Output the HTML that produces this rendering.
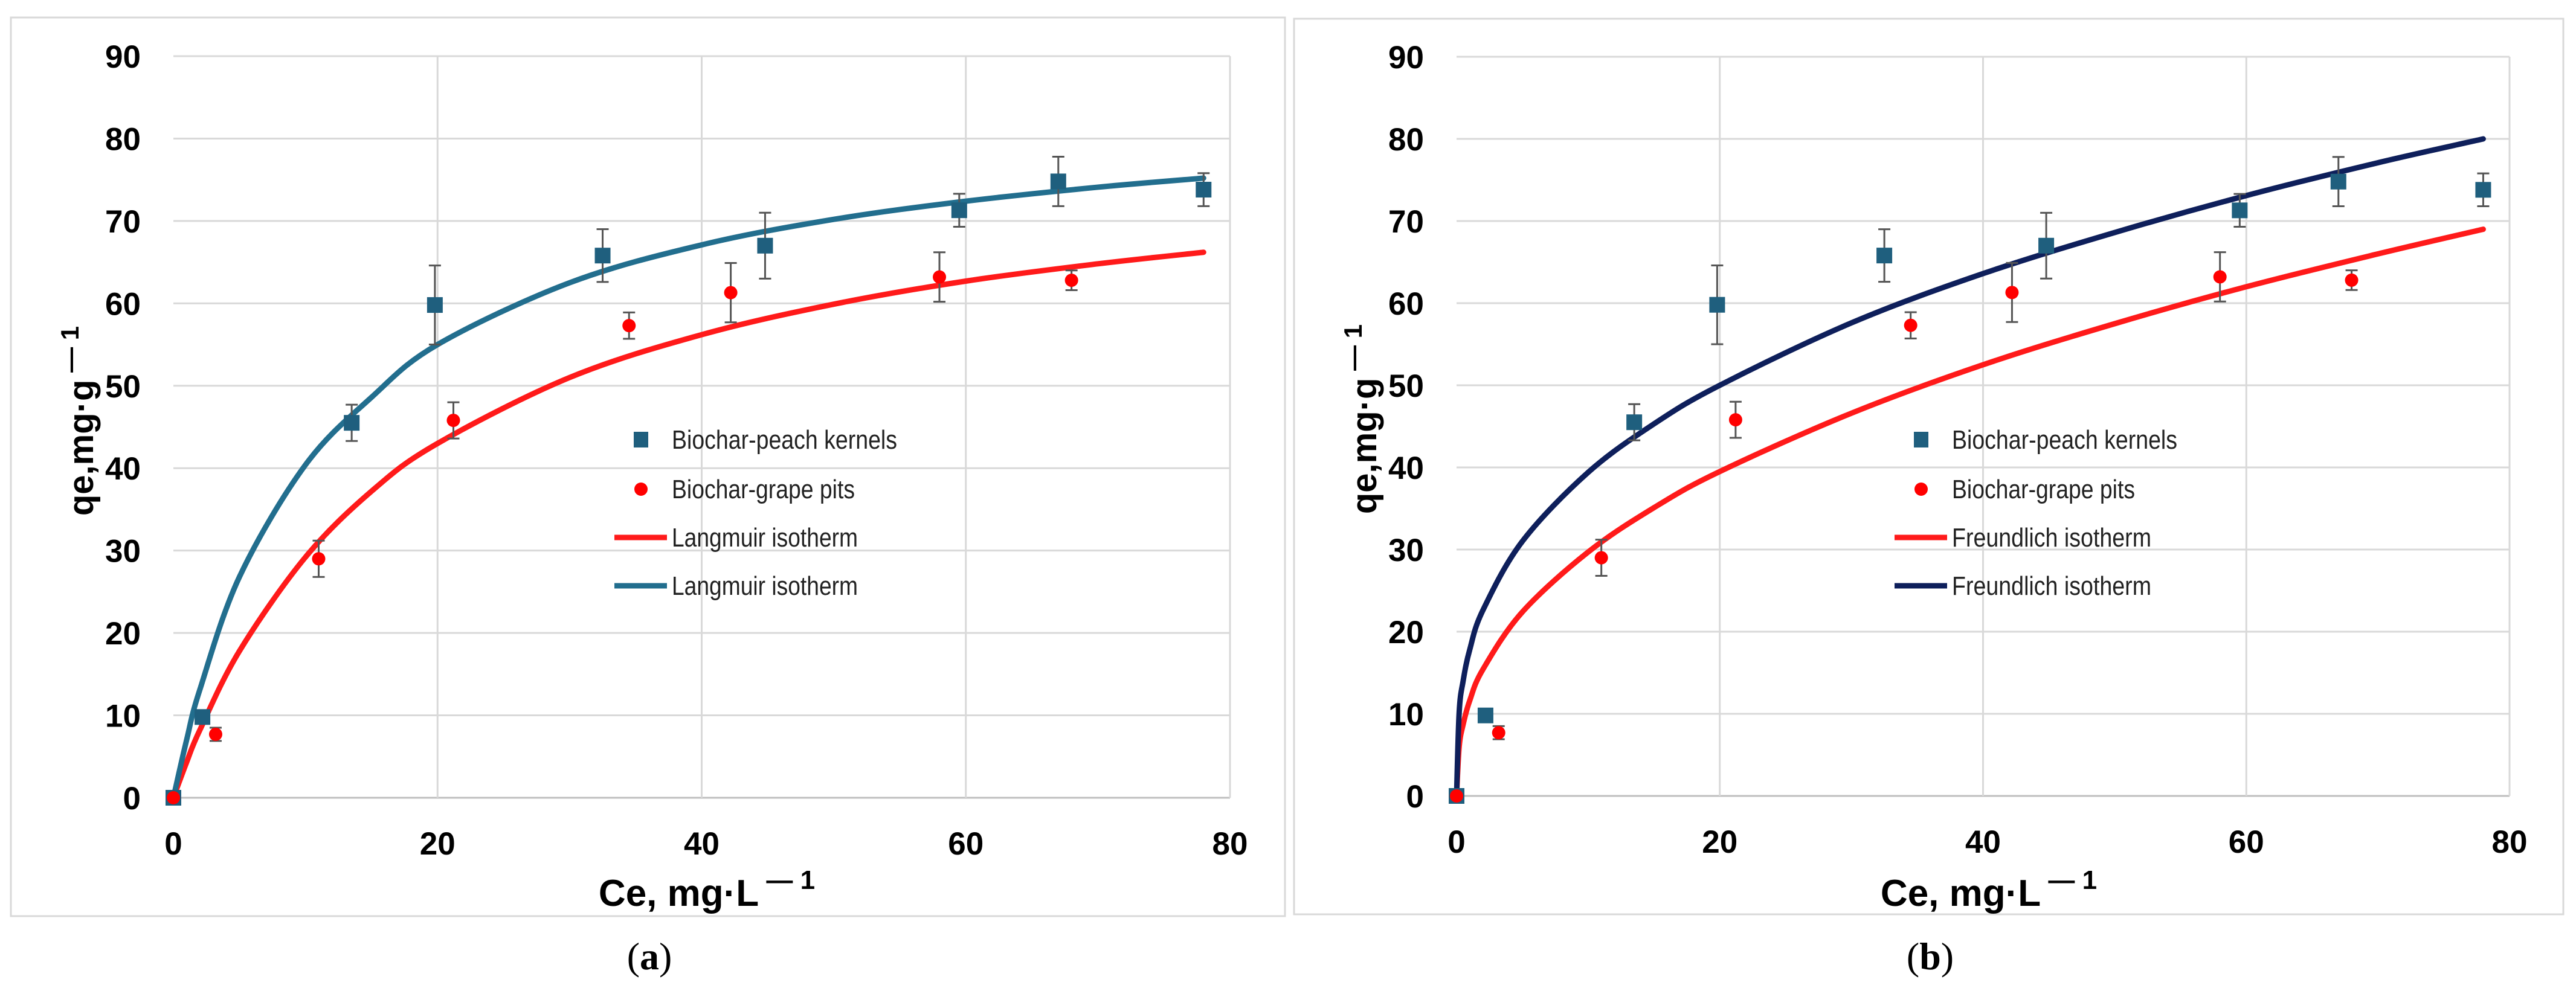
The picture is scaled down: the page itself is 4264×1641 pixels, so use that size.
<!DOCTYPE html>
<html><head><meta charset="utf-8"><style>
html,body{margin:0;padding:0;background:#fff}
svg{display:block}
text{font-family:"Liberation Sans",sans-serif}
</style></head><body>
<svg id="fig" width="4264" height="1641" viewBox="0 0 4264 1641" xmlns="http://www.w3.org/2000/svg">
<rect x="18" y="29" width="2109" height="1488" fill="#fff" stroke="#d9d9d9" stroke-width="3"/>
<rect x="2142" y="31" width="2101" height="1483" fill="#fff" stroke="#d9d9d9" stroke-width="3"/>
<text x="1075" y="1605" font-size="64" text-anchor="middle" style="font-family:'Liberation Serif',serif">(<tspan font-weight="bold">a</tspan>)</text>
<text x="3195" y="1605" font-size="64" text-anchor="middle" style="font-family:'Liberation Serif',serif">(<tspan font-weight="bold">b</tspan>)</text>
</svg>
<script>
// shared data
const xTicks=[0,20,40,60,80];
const yTicks=[0,10,20,30,40,50,60,70,80,90];
const peachX=[0,2.2,13.5,19.8,32.5,44.8,59.5,67,78];
const peachY=[0,9.8,45.5,59.8,65.8,67,71.3,74.8,73.8];
const peachErr=[0,0,2.2,4.8,3.2,4,2,3,2];
const grapeX=[0,3.2,11,21.2,34.5,42.2,58,68];
const grapeY=[0,7.7,29,45.8,57.3,61.3,63.2,62.8];
const grapeErr=[0,0.8,2.2,2.2,1.6,3.6,3,1.2];
// fitted curves
const langX=[0,1,2,5,10,15,20,30,40,50,60,70,78];
const langPeach=[0,7.0,13.1,26.8,40.4,48.6,55.0,62.5,67.1,70.2,72.4,74.1,75.2];
const langGrape=[0,4.3,8.2,17.8,29.2,37.2,43.0,51.0,56.2,59.9,62.7,64.8,66.2];
const frX=[0,0.2,0.5,1,2,5,10,15,20,30,40,50,60,70,78];
const frPeach=[0,10.2,14.0,17.8,22.6,31.0,39.4,45.3,50,57.6,63.6,68.6,73.1,77.1,80];
const frGrape=[0,6.0,8.7,11.6,15.4,22.4,29.7,35.1,39.5,46.6,52.5,57.5,62.0,66.0,69.0];

const NS='http://www.w3.org/2000/svg';
const svg=document.getElementById('fig');
function mk(tag,attrs,parent){const e=document.createElementNS(NS,tag);for(const k in attrs)e.setAttribute(k,attrs[k]);(parent||svg).appendChild(e);return e;}

function smoothPath(pts){
  let d='M'+pts[0][0]+','+pts[0][1];
  for(let i=0;i<pts.length-1;i++){
    const p0=pts[i-1]||pts[i],p1=pts[i],p2=pts[i+1],p3=pts[i+2]||p2;
    const c1x=p1[0]+(p2[0]-p0[0])/6,c1y=p1[1]+(p2[1]-p0[1])/6;
    const c2x=p2[0]-(p3[0]-p1[0])/6,c2y=p2[1]-(p3[1]-p1[1])/6;
    d+=`C${c1x},${c1y} ${c2x},${c2y} ${p2[0]},${p2[1]}`;
  }
  return d;
}

function panel(cfg){
  const g=mk('g',{});
  
  
  const sx=v=>cfg.x0+(v-0)*(cfg.x1-cfg.x0)/80;
  const sy=v=>cfg.y0-(v-0)*(cfg.y0-cfg.y1)/90;
  yTicks.forEach(t=>{
    const l=mk('line',{x1:sx(0),x2:sx(80),y1:sy(t),y2:sy(t),stroke:t===0?'#bfbfbf':'#d9d9d9','stroke-width':3},g);
    
    
    const tx=mk('text',{x:cfg.x0-54,y:sy(t)+19,'font-size':53,'font-weight':'bold','text-anchor':'end'},g);
    
    
    tx.textContent=t;
  });
  xTicks.forEach(t=>{
    if(t>0){const l=mk('line',{x1:sx(t),x2:sx(t),y1:sy(0),y2:sy(90),stroke:'#d9d9d9','stroke-width':3},g);
    
    }
    const tx=mk('text',{x:sx(t),y:cfg.y0+94,'font-size':53,'font-weight':'bold','text-anchor':'middle'},g);
    
    
    tx.textContent=t;
  });
  function curve(xs,ys,color,name){
    const p=mk('path',{d:smoothPath(xs.map((x,i)=>[sx(x),sy(ys[i])])),fill:'none',stroke:color,'stroke-width':9,'stroke-linejoin':'round','stroke-linecap':'round'},g);
    
    
  }
  curve(cfg.cx,cfg.cg,'#ff1a1a',cfg.id+'-grape-fit');
  curve(cfg.cx,cfg.cp,cfg.pc,cfg.id+'-peach-fit');
  function err(xs,ys,es,name){
    xs.forEach((x,i)=>{if(!es[i])return;
      const e=mk('path',{d:`M${sx(x)},${sy(ys[i]-es[i])}V${sy(ys[i]+es[i])}M${sx(x)-10},${sy(ys[i]-es[i])}h20M${sx(x)-10},${sy(ys[i]+es[i])}h20`,stroke:'#555',fill:'none','stroke-width':3},g);
      
      
    });
  }
  err(peachX,peachY,peachErr,'peach-error-bar');
  err(grapeX,grapeY,grapeErr,'grape-error-bar');
  peachX.forEach((x,i)=>{
    const r=mk('rect',{x:sx(x)-13,y:sy(peachY[i])-13,width:26,height:26,fill:'#1f5f7e'},g);
    
    
  });
  grapeX.forEach((x,i)=>{
    const c=mk('circle',{cx:sx(x),cy:sy(grapeY[i]),r:11,fill:'#ff0000'},g);
    
    
  });
  const xt=mk('text',{x:cfg.xtx,y:1500,'font-size':62,'font-weight':'bold','text-anchor':'middle'},g);
  
  
  xt.innerHTML='Ce, mg·L<tspan dy="-28" font-size="44"> — 1</tspan>';
  const yt=mk('text',{x:0,y:0,'font-size':58,'font-weight':'bold','text-anchor':'middle',transform:`translate(${cfg.x0-133},${cfg.y0-624}) rotate(-90)`},g);
  
  
  yt.innerHTML='qe,mg·g<tspan dy="-24" font-size="42"> — 1</tspan>';
  const lx=cfg.lx, rows=[728,810,890,970];
  const lg=mk('g',{},g);
  
  
  const m1=mk('rect',{x:lx+44-12,y:rows[0]-13,width:24,height:26,fill:'#1f5f7e'},lg);
  
  const m2=mk('circle',{cx:lx+44,cy:rows[1],r:11,fill:'#ff0000'},lg);
  
  const m3=mk('line',{x1:lx,x2:lx+87,y1:rows[2],y2:rows[2],stroke:'#ff1a1a','stroke-width':9},lg);
  
  const m4=mk('line',{x1:lx,x2:lx+87,y1:rows[3],y2:rows[3],stroke:cfg.pc,'stroke-width':9},lg);
  
  const labels=['Biochar-peach kernels','Biochar-grape pits',cfg.model+' isotherm',cfg.model+' isotherm'];
  const widths=[373,303,cfg.model==='Langmuir'?308:330,cfg.model==='Langmuir'?308:330];
  labels.forEach((s,i)=>{
    const t=mk('text',{x:lx+95,y:rows[i]+15,'font-size':44,fill:'#222',textLength:widths[i],lengthAdjust:'spacingAndGlyphs'},lg);
    
    
    t.textContent=s;
  });
}
panel({id:'panel-a',x0:287,x1:2036,y0:1321,y1:93,cx:langX,cp:langPeach,cg:langGrape,pc:'#226e8e',model:'Langmuir',lx:1017,xtx:1170});
panel({id:'panel-b',x0:2411,x1:4154,y0:1318,y1:94,cx:frX,cp:frPeach,cg:frGrape,pc:'#0e1f5b',model:'Freundlich',lx:3136,xtx:3292});
</script>
</body></html>
